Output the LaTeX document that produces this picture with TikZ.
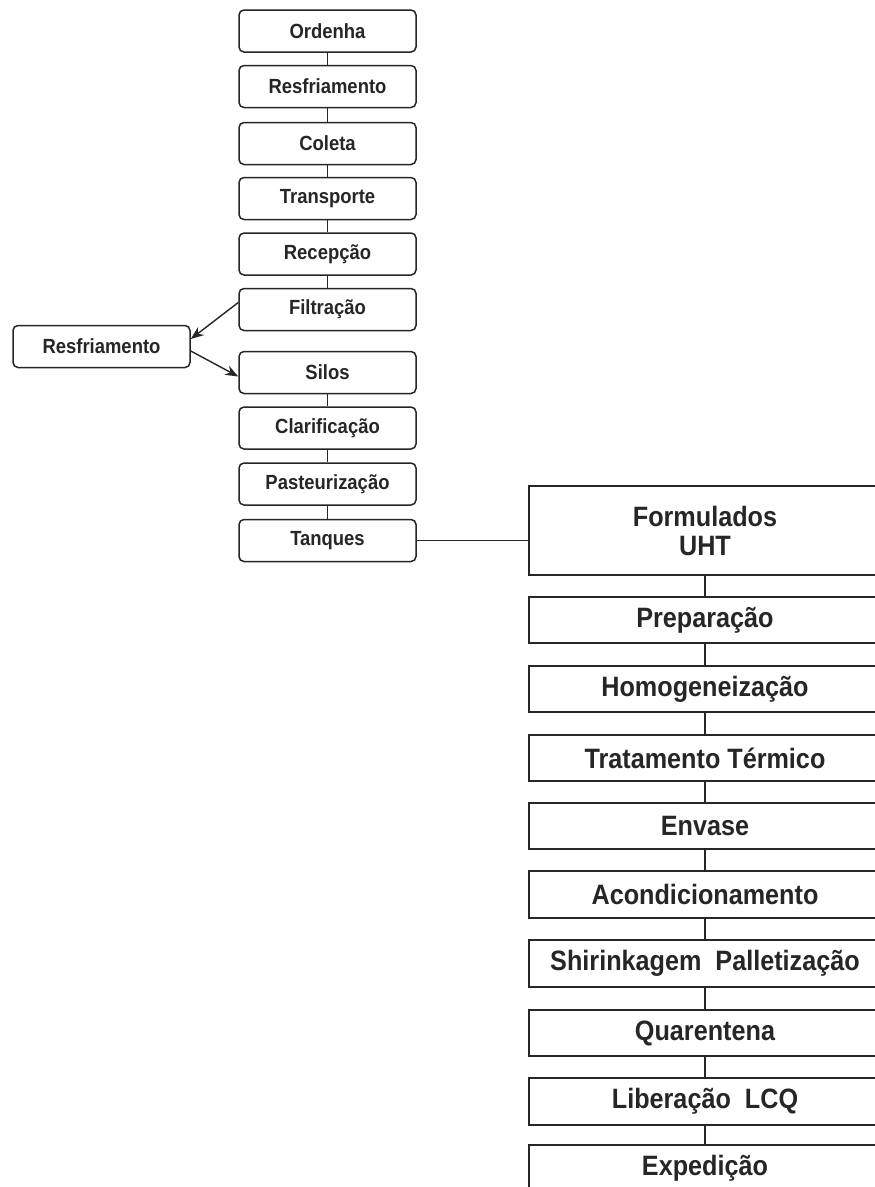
\documentclass[tikz,border=0pt]{standalone}
\usepackage{fontspec}
\newfontfamily\hf{Liberation Sans}[FakeStretch=0.9]
\usetikzlibrary{arrows.meta}
\definecolor{ink}{gray}{0.15}
\begin{document}
\begin{tikzpicture}[x=1pt,y=-1pt,
  lbox/.style={draw=ink, line width=1.5pt, rounded corners=5pt, minimum width=177pt, minimum height=42pt, inner sep=0pt, font=\hf\bfseries\fontsize{20.5}{24}\selectfont, text=ink},
  rbox/.style={draw=ink, line width=1.6pt, minimum width=352pt, minimum height=46.5pt, inner sep=0pt, font=\hf\bfseries\fontsize{28}{29}\selectfont, text=ink},
  link/.style={draw=ink, line width=1.4pt},
  arr/.style={link, -{Stealth[length=13pt,width=10pt]}}]
\useasboundingbox (0,0) rectangle (875,1187);
\clip (0,0) rectangle (875,1187);
\fill[white] (0,0) rectangle (875,1187);
% left column
\node[lbox] (ord) at (327.5,31) {Ordenha};
\node[lbox] (res) at (327.5,86.5) {Resfriamento};
\node[lbox] (col) at (327.5,143.5) {Coleta};
\node[lbox] (tra) at (327.5,198.5) {Transporte};
\node[lbox] (rec) at (327.5,254) {Recepção};
\node[lbox] (fil) at (327.5,309.5) {Filtração};
\node[lbox] (sil) at (327.5,372.5) {Silos};
\node[lbox] (cla) at (327.5,428) {Clarificação};
\node[lbox] (pas) at (327.5,484) {Pasteurização};
\node[lbox] (tan) at (327.5,540.5) {Tanques};
\node[lbox] (rs2) at (101.5,346.5) {Resfriamento};
% right column
\node[rbox, minimum height=89pt, align=center] (frm) at (705,530.5) {Formulados\\UHT};
\node[rbox] (pre) at (705,620) {Preparação};
\node[rbox] (hom) at (705,689) {Homogeneização};
\node[rbox] (trt) at (705,758) {Tratamento Térmico};
\node[rbox] (env) at (705,826) {Envase};
\node[rbox] (aco) at (705,894.5) {Acondicionamento};
\node[rbox] (shr) at (705,963.5) {Shirinkagem\hspace{7pt} Palletização};
\node[rbox] (qua) at (705,1033) {Quarentena};
\node[rbox] (lib) at (705,1101.5) {Liberação\hspace{7pt} LCQ};
\node[rbox] (exp) at (705,1168.5) {Expedição};
% connectors left
\draw[link] (ord) -- (res);
\draw[link] (res) -- (col);
\draw[link] (col) -- (tra);
\draw[link] (tra) -- (rec);
\draw[link] (rec) -- (fil);
\draw[link] (sil) -- (cla);
\draw[link] (cla) -- (pas);
\draw[link] (pas) -- (tan);
\draw[arr] ([yshift=7pt]fil.west) -- ([yshift=7.5pt]rs2.east);
\draw[arr] ([yshift=-4.5pt]rs2.east) -- ([yshift=-4pt]sil.west);
\draw[link] (tan.east) -- (tan.east -| frm.west);
% connectors right
\draw[link] (frm) -- (pre);
\draw[link] (pre) -- (hom);
\draw[link] (hom) -- (trt);
\draw[link] (trt) -- (env);
\draw[link] (env) -- (aco);
\draw[link] (aco) -- (shr);
\draw[link] (shr) -- (qua);
\draw[link] (qua) -- (lib);
\draw[link] (lib) -- (exp);
\end{tikzpicture}
\end{document}
